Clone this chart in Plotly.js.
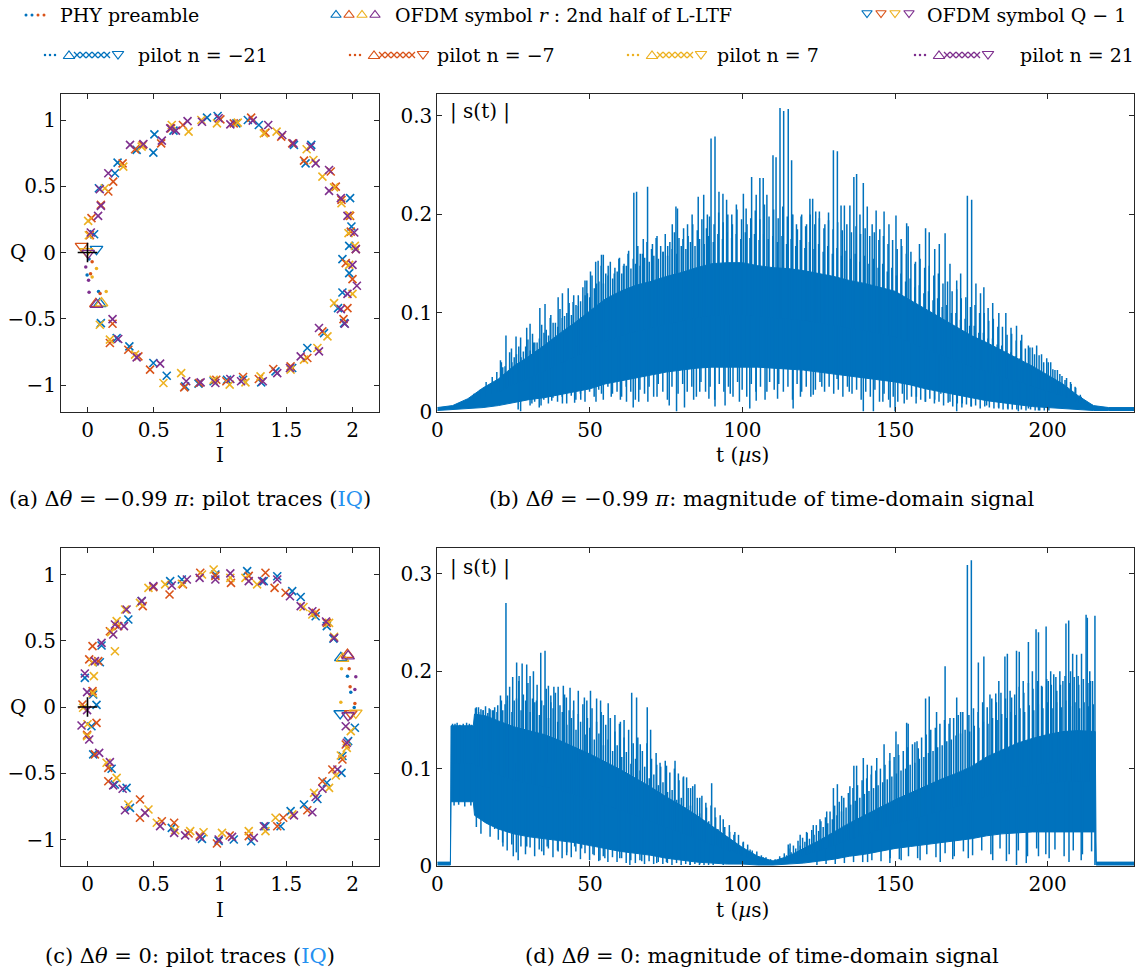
<!DOCTYPE html>
<html><head><meta charset="utf-8">
<script src="https://cdn.plot.ly/plotly-3.0.1.min.js"></script>
<style>html,body{margin:0;padding:0;background:#fff}#chart{width:1143px;height:976px}</style>
</head><body><div id="chart"></div>
<script>
// ---------- colours ----------
const COLORS = ['#0072BD', '#D95319', '#EDB120', '#7E2F8E'];
const SIG = '#0072BD';

// ---------- panel (a): Δθ = −0.99π, pilot traces (I,Q) ----------
const a_blue_I = [0.371,0.505,0.497,0.649,0.902,0.982,1.124,1.210,1.293,1.558,1.689,1.646,1.982,1.992,1.975,1.924,1.975,1.924,1.891,1.937,1.785,1.659,1.545,1.419,1.311,1.174,1.053,0.952,0.838,0.737,0.598,0.497,0.316,0.220,0.101,0.050,0.086,0.207,0.227];
const a_blue_Q = [0.774,0.892,0.754,0.920,1.018,1.030,0.975,1.000,0.962,0.812,0.812,0.673,0.410,0.196,0.050,-0.050,-0.156,-0.302,-0.420,-0.533,-0.608,-0.721,-0.872,-0.897,-0.980,-0.960,-0.960,-0.972,-0.990,-1.010,-0.930,-0.834,-0.709,-0.646,-0.533,0.138,0.485,0.598,0.678];
const a_orange_I = [0.359,0.417,0.556,0.631,0.720,1.003,1.104,1.235,1.343,1.462,1.545,1.634,1.836,1.874,1.917,1.982,1.987,2.025,1.949,2.000,1.962,1.932,1.773,1.659,1.533,1.402,1.293,1.174,1.048,0.972,0.843,0.730,0.472,0.384,0.308,0.169,0.189,0.101,0.194,0.157,0.265,0.030,0.018];
const a_orange_Q = [0.779,0.812,0.824,0.937,0.962,1.005,0.975,1.018,0.905,0.874,0.824,0.693,0.611,0.497,0.397,0.276,0.158,0.025,-0.080,-0.201,-0.420,-0.503,-0.595,-0.796,-0.859,-0.879,-0.955,-0.940,-0.972,-0.960,-0.985,-1.018,-0.884,-0.784,-0.734,-0.683,-0.538,0.359,0.535,0.460,0.673,0.259,0.131];
const a_yellow_I = [0.270,0.409,0.636,0.763,0.859,0.977,1.134,1.331,1.427,1.654,1.705,1.773,1.861,1.917,1.975,1.970,2.018,1.975,2.000,1.861,1.811,1.735,1.634,1.533,1.306,1.192,1.073,0.952,0.707,0.573,0.359,0.169,0.093,0.131,0.005,0.010];
const a_yellow_Q = [0.648,0.799,0.962,0.912,1.000,0.975,0.980,0.899,0.912,0.779,0.698,0.573,0.492,0.372,0.281,0.146,0.050,-0.093,-0.312,-0.382,-0.633,-0.721,-0.809,-0.884,-0.935,-0.980,-0.997,-0.960,-0.910,-0.985,-0.771,-0.658,-0.545,0.485,0.239,0.130];
const a_purple_I = [0.321,0.422,0.561,0.624,0.667,0.755,0.864,0.990,1.078,1.247,1.364,1.470,1.553,1.684,1.722,1.823,1.823,1.912,1.962,2.013,2.025,2.000,2.033,1.962,1.912,1.942,1.747,1.747,1.609,1.528,1.432,1.323,1.159,1.078,0.965,0.854,0.745,0.548,0.371,0.232,0.189,0.157,0.093,0.101,0.080,0.025];
const a_purple_Q = [0.812,0.819,0.844,0.937,0.920,0.992,0.987,1.013,0.967,0.995,0.962,0.887,0.824,0.799,0.673,0.623,0.465,0.410,0.276,0.151,0.025,-0.093,-0.251,-0.312,-0.427,-0.538,-0.570,-0.746,-0.784,-0.872,-0.910,-0.972,-0.972,-0.955,-0.985,-0.980,-0.972,-0.839,-0.791,-0.653,-0.503,0.598,0.477,0.352,0.276,0.151];
const a_pre_I = [[-0.003,0.083,0.012],[0.035,0.023,0.095],[0.068,0.035,0.141],[-0.013,0.008,0.012]];
const a_pre_Q = [[-0.170,-0.295,-0.050],[-0.070,-0.160,-0.310],[-0.120,-0.185,-0.295],[-0.110,-0.210,-0.300]];
const a_up_I = [0.093,0.063,0.106,0.068];
const a_up_Q = [-0.387,-0.387,-0.382,-0.394];
const a_dn_I = [0.068,-0.045,-0.008,0.005];
const a_dn_Q = [0.025,0.048,0.008,-0.005];

// ---------- panel (c): Δθ = 0, pilot traces (I,Q) ----------
const c_blue_I = [0.030,0.043,0.182,0.207,0.295,0.321,0.636,0.864,0.990,1.104,1.235,1.343,1.457,1.533,1.634,1.735,1.806,1.917,1.924,1.967,2.018,1.856,1.806,1.722,1.609,1.545,1.432,1.205,0.965,0.712,0.624,0.409,0.308,0.106,0.093,-0.020,0.043,0.068,1.330];
const c_blue_Q = [-0.145,-0.358,-0.466,-0.585,-0.610,-0.761,-0.912,-0.995,-1.010,-1.000,-1.013,-0.900,-0.900,-0.786,-0.736,-0.694,-0.572,-0.497,-0.370,-0.258,-0.157,0.516,0.610,0.685,0.830,0.874,0.987,1.025,1.000,0.962,0.950,0.800,0.660,0.464,0.338,0.220,0.094,0.016,0.950];
const c_orange_I = [-0.038,-0.003,0.068,0.056,0.157,0.157,0.396,0.396,0.561,0.654,0.763,0.846,0.977,1.073,1.217,1.432,1.477,1.659,1.773,1.848,1.924,1.949,1.806,1.722,1.495,1.412,1.343,1.217,1.083,0.965,0.851,0.720,0.619,0.497,0.417,0.232,0.169,0.038,0.013,0.081,0.038];
const c_orange_Q = [0.019,-0.210,-0.120,-0.358,-0.459,-0.560,-0.698,-0.836,-0.862,-0.874,-0.955,-0.970,-1.030,-0.970,-0.975,-0.900,-0.836,-0.779,-0.560,-0.472,-0.396,-0.283,0.635,0.710,0.862,0.899,1.013,0.990,0.937,0.990,1.013,0.925,0.849,0.905,0.761,0.610,0.572,0.459,0.359,0.346,0.120];
const c_yellow_I = [-0.033,-0.003,0.000,0.144,0.220,0.308,0.460,0.523,0.662,0.775,0.876,1.015,1.217,1.343,1.419,1.546,1.710,1.823,1.874,1.912,1.957,1.987,1.861,1.823,1.697,1.630,1.280,1.192,1.078,0.952,0.864,0.712,0.586,0.460,0.396,0.283,0.220,0.178,0.207,0.038,0.048,0.040];
const c_yellow_Q = [-0.006,-0.220,-0.130,-0.421,-0.535,-0.736,-0.774,-0.874,-0.930,-0.937,-0.945,-0.950,-0.937,-0.937,-0.836,-0.810,-0.648,-0.610,-0.517,-0.366,-0.308,-0.182,0.530,0.635,0.698,0.755,0.925,0.975,0.975,1.038,1.000,0.930,0.925,0.899,0.786,0.736,0.648,0.565,0.421,0.338,0.233,0.105];
const c_purple_I = [-0.003,-0.045,0.013,0.088,0.169,0.194,0.265,0.283,0.434,0.548,0.654,0.737,0.850,0.990,1.091,1.255,1.331,1.558,1.697,1.722,1.773,1.886,1.957,1.949,1.861,1.800,1.697,1.609,1.528,1.432,1.318,1.217,1.078,0.965,0.846,0.750,0.636,0.497,0.409,0.295,0.207,0.275,0.194,0.106,0.056,-0.020,-0.003];
const c_purple_Q = [-0.024,-0.140,-0.245,-0.346,-0.416,-0.592,-0.617,-0.779,-0.799,-0.899,-0.950,-0.969,-0.980,-1.000,-0.980,-0.987,-0.900,-0.818,-0.794,-0.679,-0.617,-0.472,-0.270,-0.145,0.522,0.645,0.723,0.761,0.836,0.962,0.950,0.950,1.008,0.962,0.975,0.962,0.917,0.912,0.799,0.736,0.623,0.610,0.547,0.484,0.346,0.253,0.112];
const c_pre_I = [[1.962,1.987,2.013],[1.975,1.982,2.018],[1.917,1.912],[2.025,2.018]];
const c_pre_Q = [[0.233,0.112,-0.004],[0.288,0.152,0.026],[0.288,0.036],[0.228,0.132]];
const c_up_I = [1.912,1.962,1.925,1.967];
const c_up_Q = [0.371,0.396,0.365,0.384];
const c_dn_I = [1.907,1.987,2.025,1.967];
const c_dn_Q = [-0.049,-0.049,-0.044,-0.064];

// ---------- panel (b): |s(t)| for Δθ = −0.99π ----------
const b_t   = [0,5,10,15,20,25,30,35,40,45,50,55,60,65,70,75,80,85,90,95,100,105,110,115,120,125,130,135,140,145,150,155,160,165,170,175,180,185,190,195,200,205,210,215,220,225,228.3];
const b_top = [0.004,0.006,0.013,0.024,0.033,0.046,0.056,0.067,0.079,0.090,0.102,0.114,0.122,0.128,0.132,0.137,0.141,0.146,0.150,0.151,0.151,0.148,0.146,0.145,0.143,0.140,0.137,0.133,0.130,0.126,0.122,0.113,0.104,0.095,0.086,0.077,0.070,0.062,0.054,0.046,0.037,0.028,0.016,0.006,0.004,0.004,0.004];
const b_bot = [0.001,0.002,0.003,0.004,0.006,0.009,0.012,0.014,0.017,0.020,0.023,0.028,0.031,0.034,0.037,0.040,0.042,0.044,0.045,0.045,0.045,0.045,0.044,0.043,0.042,0.040,0.038,0.036,0.034,0.032,0.030,0.027,0.023,0.020,0.017,0.014,0.011,0.009,0.007,0.005,0.004,0.003,0.002,0.001,0.001,0.001,0.001];
const b_spike_t = [12,14,16,18,19.5,21,22.5,24.3,25.8,27.3,29.3,30.4,31.5,33.6,35.3,37.0,39.6,41.0,42.9,44.5,46.2,48.4,49.0,50.2,51.9,52.7,53.8,54.4,56.0,58.0,59.5,61.0,62.5,64.4,65.3,66.5,67.5,68.9,70.5,72.0,74.0,75.5,77.0,78.2,78.7,80.5,82.0,83.5,85.5,87.3,88.5,89.7,91.0,92.3,93.6,94.8,96.5,98.0,100.3,101.5,103.0,104.5,105.7,106.8,108.0,110.0,111.0,112.3,113.5,115.0,116.1,116.5,118.0,119.4,121.0,122.1,123.0,124.0,125.2,127.0,128.2,129.8,131.1,132.3,133.4,135.2,136.5,137.4,138.5,139.6,140.9,142.5,143.8,145.0,146.4,148.0,150.3,152.0,153.8,154.3,156.5,158.0,160.0,161.2,163.0,164.5,166.4,168.0,170.2,171.5,173.7,175.1,176.5,178.0,179.1,180.5,182.0,184.0,186.3,188.0,189.8,191.5,193.7,195.0,196.4,198.0,199.7,201.0,202.4,204.0,205.7,207.5,209.0,211.0,212.8,214.5];
const b_spike_v = [0.018,0.022,0.030,0.035,0.040,0.050,0.077,0.064,0.076,0.075,0.085,0.089,0.070,0.105,0.109,0.095,0.116,0.120,0.125,0.111,0.118,0.133,0.133,0.142,0.152,0.153,0.159,0.159,0.148,0.140,0.155,0.148,0.160,0.222,0.223,0.160,0.175,0.228,0.170,0.178,0.162,0.168,0.190,0.208,0.206,0.175,0.190,0.200,0.218,0.220,0.200,0.277,0.279,0.223,0.221,0.215,0.200,0.210,0.221,0.190,0.238,0.220,0.237,0.237,0.220,0.260,0.258,0.308,0.305,0.307,0.255,0.200,0.185,0.200,0.190,0.216,0.216,0.203,0.203,0.190,0.202,0.265,0.264,0.209,0.209,0.209,0.238,0.241,0.200,0.232,0.208,0.190,0.204,0.185,0.203,0.190,0.199,0.175,0.191,0.188,0.150,0.170,0.186,0.182,0.165,0.170,0.181,0.150,0.133,0.140,0.219,0.215,0.130,0.120,0.126,0.105,0.110,0.100,0.100,0.085,0.087,0.078,0.067,0.065,0.067,0.058,0.054,0.050,0.042,0.038,0.032,0.030,0.025,0.015,0.008,0.007];
const b_fuzz = [[20.7,.052],[22.2,.046],[23.7,.06],[25.2,.055],[26.7,.066],[28.2,.061],[29.7,.073],[31.2,.079],[32.7,.07],[34.2,.088],[35.7,.083],[37.2,.098],[38.7,.09],[40.2,.104],[41.7,.097],[43.2,.11],[44.7,.118],[46.2,.107],[47.7,.126],[49.2,.12],[50.7,.138],[52.2,.13],[53.7,.148],[55.2,.14],[56.7,.152],[58.2,.146],[59.7,.156],[61.2,.15],[62.7,.163],[64.2,.155],[65.7,.168],[67.2,.16],[68.7,.172],[70.2,.165],[71.7,.176],[73.2,.168],[74.7,.18],[76.2,.172],[77.7,.182],[79.2,.176],[80.7,.186],[82.2,.178],[83.7,.19],[85.2,.184],[86.7,.195],[88.2,.186],[89.2,.198],[90.7,.19],[92.2,.202],[93.7,.192],[95.2,.2],[96.7,.19],[98.2,.205],[99.7,.195],[101.2,.206],[102.7,.196],[104.2,.204],[105.7,.195],[107.2,.21],[108.7,.198],[110.2,.205],[111.7,.196],[113.2,.208],[114.7,.198],[116.2,.2],[117.7,.19],[119.2,.198],[120.7,.188],[122.2,.2],[123.7,.19],[125.2,.196],[126.7,.186],[128.2,.194],[129.7,.185],[131.2,.192],[132.7,.184],[134.2,.19],[135.7,.182],[137.2,.188],[138.7,.18],[140.2,.186],[141.7,.178],[143.2,.182],[144.7,.174],[146.2,.178],[147.7,.17],[149.2,.174],[150.7,.165],[152.2,.168],[153.7,.16],[155.2,.162],[156.7,.152],[158.2,.155],[159.7,.146],[161.2,.148],[162.7,.138],[164.2,.14],[165.7,.13],[167.2,.132],[168.7,.122],[170.2,.124],[171.7,.115],[173.2,.116],[174.7,.106],[176.2,.108],[177.7,.1],[179.2,.1],[180.7,.092],[182.2,.094],[183.7,.086],[185.2,.086],[186.7,.078],[188.2,.079],[189.7,.072],[191.2,.072],[192.7,.064],[194.2,.065],[195.7,.058],[197.2,.057],[198.7,.05],[200.2,.05],[201.7,.043],[203.2,.042],[204.7,.036],[206.2,.034],[207.7,.028],[209.2,.024],[210.7,.017]];
const b_fuzz2 = [[21.45,.045],[22.95,.04],[24.45,.05],[25.95,.058],[27.45,.055],[28.95,.066],[30.45,.062],[31.95,.07],[33.45,.074],[34.95,.08],[36.45,.077],[37.95,.09],[39.45,.086],[40.95,.095],[42.45,.1],[43.95,.098],[45.45,.108],[46.95,.112],[48.45,.118],[49.95,.116],[51.45,.125],[52.95,.132],[54.45,.13],[55.95,.138],[57.45,.135],[58.95,.142],[60.45,.14],[61.95,.148],[63.45,.145],[64.95,.15],[66.45,.148],[67.95,.156],[69.45,.152],[70.95,.158],[72.45,.155],[73.95,.162],[75.45,.158],[76.95,.165],[78.45,.16],[79.95,.168],[81.45,.165],[82.95,.172],[84.45,.168],[85.95,.175],[87.45,.17],[88.95,.178],[90.45,.172],[91.95,.18],[93.45,.175],[94.95,.182],[96.45,.176],[97.95,.18],[99.45,.175],[100.95,.182],[102.45,.176],[103.95,.18],[105.45,.174],[106.95,.18],[108.45,.175],[109.95,.178],[111.45,.172],[112.95,.178],[114.45,.17],[115.95,.175],[117.45,.168],[118.95,.174],[120.45,.166],[121.95,.172],[123.45,.165],[124.95,.17],[126.45,.162],[127.95,.168],[129.45,.16],[130.95,.166],[132.45,.158],[133.95,.163],[135.45,.155],[136.95,.16],[138.45,.152],[139.95,.158],[141.45,.15],[142.95,.155],[144.45,.146],[145.95,.15],[147.45,.142],[148.95,.146],[150.45,.138],[151.95,.14],[153.45,.132],[154.95,.135],[156.45,.126],[157.95,.128],[159.45,.12],[160.95,.122],[162.45,.113],[163.95,.115],[165.45,.106],[166.95,.108],[168.45,.1],[169.95,.1],[171.45,.093],[172.95,.094],[174.45,.087],[175.95,.087],[177.45,.08],[178.95,.08],[180.45,.074],[181.95,.074],[183.45,.068],[184.95,.067],[186.45,.062],[187.95,.06],[189.45,.056],[190.95,.054],[192.45,.05],[193.95,.048],[195.45,.044],[196.95,.042],[198.45,.038],[199.95,.036],[201.45,.032],[202.95,.03],[204.45,.026],[205.95,.024],[207.45,.02],[208.95,.017],[210.45,.013],[211.95,.01]];
const b_dip_t = [26.5,27.3,31,34,37.5,41,45,47,52,53.8,57,60,62,64.2,66,69,72,76,78.4,81,84,86,89,91,94.3,96,99,102.4,104.5,108,111.5,116.6,119,123.2,126,131,135,139.6,142.9,146,148.4,150,153,157,160,163,165,168,170.2,172,175,180,184,187,190.4,193.7,197,200];
const b_dip_v = [0.002,0.000,0.008,0.006,0.011,0.008,0.009,0.012,0.010,0.018,0.015,0.012,0.010,0.004,0.010,0.010,0.015,0.006,0.000,0.004,0.012,0.020,0.013,0.005,0.006,0.018,0.010,0.003,0.011,0.020,0.013,0.003,0.015,0.017,0.025,0.033,0.020,0.000,0.000,0.010,0.004,0.000,0.008,0.015,0.010,0.012,0.018,0.010,0.000,0.008,0.005,0.006,0.003,0.002,0.000,0.003,0.001,0.002];
const b_dip2 = [[30.4,.006],[31.9,.01],[33.4,.004],[34.9,.012],[36.4,.008],[37.9,.014],[39.4,.01],[40.9,.015],[42.4,.008],[43.9,.016],[45.4,.012],[46.9,.018],[48.4,.01],[49.9,.02],[51.4,.015],[52.9,.022],[54.4,.012],[55.9,.025],[57.4,.018],[58.9,.02],[60.4,.015],[61.9,.025],[63.4,.02],[64.9,.012],[66.4,.022],[67.9,.018],[69.4,.025],[70.9,.015],[72.4,.028],[73.9,.02],[75.4,.012],[76.9,.025],[78.9,.018],[80.4,.028],[81.9,.02],[83.4,.025],[84.9,.015],[86.4,.03],[87.9,.02],[89.4,.025],[90.9,.012],[92.4,.028],[93.9,.02],[95.4,.025],[96.9,.015],[98.4,.03],[99.9,.022],[101.4,.015],[102.9,.028],[104.4,.02],[105.9,.025],[107.4,.012],[108.9,.03],[110.4,.022],[111.9,.028],[113.4,.02],[114.9,.025],[116.4,.012],[117.9,.028],[119.4,.02],[120.9,.025],[122.4,.015],[123.9,.022],[125.4,.03],[126.9,.02],[128.4,.025],[129.9,.018],[131.4,.022],[132.9,.015],[134.4,.025],[135.9,.018],[137.4,.022],[138.9,.012],[140.4,.02],[141.9,.015],[143.4,.022],[144.9,.01],[146.4,.018],[147.9,.012],[149.4,.015],[150.9,.01],[152.4,.018],[153.9,.012],[155.4,.015],[156.9,.008],[158.4,.012],[159.9,.01],[161.4,.013],[162.9,.008],[164.4,.01],[165.9,.006],[167.4,.009],[168.9,.005],[170.4,.008],[171.9,.004],[173.4,.007],[174.9,.005],[176.4,.006],[177.9,.003],[179.4,.005],[180.9,.004],[182.4,.003],[183.9,.004],[185.4,.002],[186.9,.003],[188.4,.002],[189.9,.002],[191.4,.002],[192.9,.001],[194.4,.002],[195.9,.001],[197.4,.001],[198.9,.001],[200.4,.001]];

// ---------- panel (d): |s(t)| for Δθ = 0 ----------
const d_t   = [0,4.3,4.5,8,11.8,12.2,16,20,25,30,35,40,45,50,55,60,65,70,75,80,85,90,95,100,105,110,115,120,125,130,135,140,145,150,155,160,165,170,175,180,185,190,195,200,205,210,215.6,215.9,222,228.3];
const d_top = [0.004,0.004,0.144,0.144,0.144,0.156,0.154,0.149,0.143,0.139,0.135,0.129,0.122,0.115,0.107,0.099,0.090,0.081,0.071,0.062,0.052,0.041,0.030,0.019,0.010,0.005,0.010,0.018,0.026,0.035,0.044,0.052,0.060,0.068,0.075,0.082,0.089,0.095,0.102,0.112,0.119,0.126,0.131,0.135,0.138,0.139,0.138,0.004,0.004,0.004];
const d_bot = [0.001,0.001,0.066,0.066,0.066,0.052,0.044,0.038,0.033,0.030,0.028,0.026,0.024,0.021,0.018,0.015,0.013,0.011,0.008,0.006,0.004,0.003,0.002,0.002,0.001,0.001,0.002,0.003,0.005,0.007,0.010,0.012,0.015,0.018,0.020,0.022,0.024,0.026,0.028,0.031,0.033,0.034,0.035,0.035,0.035,0.035,0.035,0.001,0.001,0.001];
const d_spike_t = [5,6.5,8.5,10.5,12.5,13.5,15,17,18.5,19.8,21,22.5,23,24.7,26,26.8,27.8,29.3,30.4,31.5,32.5,33.9,35.3,36.4,37.2,38.2,39.6,41.3,42.3,43.5,44.6,46.2,48.2,49,50.2,52.2,53.5,54.4,56,58.2,60,61.2,63.7,65.3,66.5,68.8,69.9,71.9,73,75.1,77.9,79,80.6,81.7,83,84.4,86,88,89.9,91,93.7,95.8,97.5,100.3,102.5,106.8,110,112.3,115,115.6,118.9,121,123.2,125.4,127.6,129.8,131.1,132.5,135.2,136.5,137.4,139.6,140.9,142.3,144,146.4,148.3,150.3,151,153.8,154.3,156.5,157.6,160,161.2,163.6,166.4,168,170.2,171.5,173.7,175,177.3,179.1,181.1,183,184,186,186.8,188.2,189.8,190.7,192,193.7,195,196.2,197,198,199.5,200.2,201,202,203,204,205,206,206.9,207.5,208.2,209.5,210,211.1,212.6,213,213.8,214,215.5];
const d_spike_v = [0.146,0.147,0.146,0.146,0.162,0.163,0.160,0.162,0.160,0.165,0.170,0.270,0.175,0.194,0.209,0.195,0.208,0.207,0.195,0.200,0.170,0.219,0.221,0.185,0.175,0.184,0.184,0.185,0.173,0.183,0.160,0.180,0.173,0.170,0.180,0.172,0.170,0.155,0.167,0.155,0.148,0.150,0.178,0.173,0.125,0.163,0.140,0.104,0.106,0.103,0.108,0.095,0.091,0.091,0.080,0.084,0.070,0.065,0.085,0.060,0.048,0.035,0.035,0.025,0.017,0.009,0.006,0.008,0.022,0.023,0.032,0.035,0.042,0.048,0.056,0.080,0.084,0.072,0.082,0.103,0.103,0.111,0.104,0.103,0.111,0.125,0.116,0.138,0.125,0.147,0.146,0.127,0.121,0.172,0.174,0.158,0.205,0.152,0.173,0.158,0.309,0.314,0.209,0.215,0.176,0.177,0.190,0.215,0.218,0.173,0.221,0.220,0.190,0.230,0.200,0.243,0.240,0.185,0.246,0.190,0.200,0.197,0.180,0.200,0.190,0.249,0.252,0.200,0.218,0.217,0.195,0.218,0.258,0.255,0.200,0.190,0.257];
const d_fuzz = [[5.8,.146],[7.4,.145],[9.6,.147],[11.2,.145],[12.8,.163],[14.3,.161],[15.8,.164],[17.3,.161],[18.8,.163],[20.7,.175],[22.2,.166],[23.7,.184],[25.2,.17],[26.7,.19],[28.2,.176],[29.7,.188],[31.2,.172],[32.7,.186],[34.2,.17],[35.7,.182],[37.2,.168],[38.7,.178],[40.2,.165],[41.7,.176],[43.2,.16],[44.7,.17],[46.2,.156],[47.7,.166],[49.2,.152],[50.7,.162],[52.2,.148],[53.7,.158],[55.2,.145],[56.7,.152],[58.2,.138],[59.7,.146],[61.2,.132],[62.7,.14],[64.2,.126],[65.7,.132],[67.2,.118],[68.7,.126],[70.2,.11],[71.7,.116],[73.2,.102],[74.7,.108],[76.2,.096],[77.7,.1],[79.2,.088],[80.7,.092],[82.2,.08],[83.7,.082],[85.2,.07],[86.7,.072],[88.2,.06],[89.7,.062],[91.2,.05],[92.7,.052],[94.2,.04],[95.7,.042],[97.2,.032],[98.7,.032],[100.2,.024],[101.7,.022],[103.2,.016],[104.7,.015],[106.2,.011],[107.7,.009],[109.2,.007],[110.7,.007],[112.2,.01],[113.7,.013],[115.2,.018],[116.7,.021],[118.2,.026],[119.7,.029],[121.2,.034],[122.7,.037],[124.2,.042],[125.7,.046],[127.2,.05],[128.7,.056],[130.2,.062],[131.7,.066],[133.2,.07],[134.7,.075],[136.2,.08],[137.7,.083],[139.2,.088],[140.7,.09],[142.2,.094],[143.7,.098],[145.2,.1],[146.7,.104],[148.2,.108],[149.7,.112],[151.2,.114],[152.7,.118],[154.2,.122],[155.7,.125],[157.2,.128],[158.7,.132],[160.2,.135],[161.7,.14],[163.2,.142],[164.7,.146],[166.2,.15],[167.7,.146],[169.2,.152],[170.7,.155],[172.2,.158],[174.2,.155],[175.7,.162],[177.2,.158],[178.7,.168],[180.2,.163],[181.7,.172],[183.2,.168],[184.7,.178],[186.2,.172],[187.7,.18],[189.2,.176],[190.7,.184],[192.2,.178],[193.7,.188],[195.2,.182],[196.7,.19],[198.2,.184],[199.7,.192],[201.2,.186],[202.7,.194],[204.2,.186],[205.7,.195],[207.2,.188],[208.7,.194],[210.2,.186],[211.7,.192],[213.2,.188],[214.7,.19]];
const d_fuzz2 = [[13.55,.158],[15.05,.16],[16.55,.157],[18.05,.16],[19.55,.158],[21.45,.16],[22.95,.17],[24.45,.158],[25.95,.172],[27.45,.16],[28.95,.17],[30.45,.158],[31.95,.168],[33.45,.155],[34.95,.165],[36.45,.152],[37.95,.162],[39.45,.148],[40.95,.158],[42.45,.145],[43.95,.152],[45.45,.14],[46.95,.148],[48.45,.135],[49.95,.142],[51.45,.13],[52.95,.136],[54.45,.124],[55.95,.13],[57.45,.118],[58.95,.124],[60.45,.112],[61.95,.117],[63.45,.105],[64.95,.11],[66.45,.098],[67.95,.102],[69.45,.09],[70.95,.094],[72.45,.083],[73.95,.086],[75.45,.076],[76.95,.078],[78.45,.068],[79.95,.07],[81.45,.06],[82.95,.062],[84.45,.053],[85.95,.054],[87.45,.045],[88.95,.046],[90.45,.038],[91.95,.038],[93.45,.031],[94.95,.03],[96.45,.024],[97.95,.023],[99.45,.018],[100.95,.016],[102.45,.012],[103.95,.011],[105.45,.008],[106.95,.007],[108.45,.006],[111.45,.006],[112.95,.008],[114.45,.011],[115.95,.014],[117.45,.018],[118.95,.021],[120.45,.025],[121.95,.028],[123.45,.032],[124.95,.036],[126.45,.04],[127.95,.044],[129.45,.048],[130.95,.052],[132.45,.056],[133.95,.06],[135.45,.063],[136.95,.067],[138.45,.07],[139.95,.074],[141.45,.077],[142.95,.08],[144.45,.083],[145.95,.086],[147.45,.089],[148.95,.092],[150.45,.095],[151.95,.098],[153.45,.1],[154.95,.104],[156.45,.106],[157.95,.11],[159.45,.112],[160.95,.116],[162.45,.118],[163.95,.122],[165.45,.124],[166.95,.128],[168.45,.13],[169.95,.134],[171.45,.136],[172.95,.14],[174.45,.138],[175.95,.144],[177.45,.142],[178.95,.148],[180.45,.146],[181.95,.152],[183.45,.15],[184.95,.156],[186.45,.152],[187.95,.158],[189.45,.155],[190.95,.162],[192.45,.158],[193.95,.165],[195.45,.16],[196.95,.166],[198.45,.162],[199.95,.168],[201.45,.162],[202.95,.168],[204.45,.163],[205.95,.17],[207.45,.164],[208.95,.168],[210.45,.162],[211.95,.168],[213.45,.164],[214.95,.166]];
const d_dip_t = [20,21.5,24.9,26.5,29.3,34.2,36,39.6,42.4,45,47.3,51,53.3,54.9,59.8,63.1,67,71.9,75.1,82.8,86,93.7,141,148.3,152,158.2,164.8,168.9,174,182,186.5,189.8,193,197,200.5,207,211,215.5];
const d_dip_v = [0.027,0.020,0.010,0.006,0.020,0.015,0.020,0.015,0.011,0.020,0.018,0.012,0.006,0.008,0.008,0.001,0.005,0.003,0.004,0.001,0.002,0.001,0.004,0.003,0.006,0.006,0.004,0.007,0.008,0.006,0.005,0.001,0.003,0.010,0.008,0.004,0.006,0.001];
const d_dip2 = [[5.5,.062],[7,.063],[9,.061],[11,.062],[12.8,.04],[14.3,.033],[15.8,.045],[17.3,.03],[18.8,.038],[21.4,.024],[22.9,.016],[24.4,.022],[25.9,.014],[27.4,.02],[28.9,.012],[30.4,.019],[31.9,.01],[33.4,.017],[34.9,.011],[36.4,.018],[37.9,.009],[39.4,.016],[40.9,.008],[42.4,.014],[43.9,.009],[45.4,.015],[46.9,.007],[48.4,.013],[49.9,.006],[51.4,.011],[52.9,.005],[54.4,.01],[55.9,.004],[57.4,.009],[58.9,.004],[60.4,.008],[61.9,.003],[63.4,.006],[64.9,.003],[66.4,.006],[67.9,.002],[69.4,.005],[70.9,.002],[72.4,.004],[73.9,.002],[75.4,.003],[76.9,.001],[78.4,.003],[79.9,.001],[81.4,.002],[82.9,.001],[84.4,.002],[85.9,.001],[87.4,.001],[88.9,.001],[90.4,.001],[124.4,.001],[127.4,.002],[130.4,.002],[133.4,.003],[136.4,.004],[139.4,.004],[142.4,.006],[145.4,.005],[148.4,.008],[151.4,.007],[154.4,.01],[157.4,.008],[160.4,.012],[163.4,.009],[166.4,.013],[169.4,.01],[172.4,.015],[175.4,.011],[178.4,.016],[181.4,.012],[184.4,.018],[187.4,.012],[190.4,.016],[193.4,.01],[196.4,.018],[199.4,.012],[202.4,.017],[205.4,.01],[208.4,.016],[211.4,.012],[214.4,.015]];

// ---------- text ----------
const FONT = 'DejaVu Serif';
const LINK = '#2490f0';
const legendRow1 = ['PHY preamble', 'OFDM symbol <i>r</i> : 2nd half of L-LTF', 'OFDM symbol Q − 1'];
const legendRow2 = ['pilot n = −21', 'pilot n = −7', 'pilot n = 7', 'pilot n = 21'];
const captions = [
  '(a) Δ<i>θ</i> = −0.99 <i>π</i>: pilot traces (<span style="color:' + LINK + '">IQ</span>)',
  '(b) Δ<i>θ</i> = −0.99 <i>π</i>: magnitude of time-domain signal',
  '(c) Δ<i>θ</i> = 0: pilot traces (<span style="color:' + LINK + '">IQ</span>)',
  '(d) Δ<i>θ</i> = 0: magnitude of time-domain signal'
];

// ---------- helpers ----------
function lerp(t, xs, ys) {
  for (let i = 0; i < xs.length - 1; i++) {
    if (t <= xs[i + 1]) return ys[i] + (ys[i + 1] - ys[i]) * (t - xs[i]) / (xs[i + 1] - xs[i]);
  }
  return ys[ys.length - 1];
}
const traces = [];
function iqPanel(xa, ya, I, Q, preI, preQ, upI, upQ, dnI, dnQ) {
  for (let k = 0; k < 4; k++) {
    traces.push({type:'scatter', mode:'markers', x:preI[k], y:preQ[k], xaxis:xa, yaxis:ya,
      marker:{symbol:'circle', size:3.5, color:COLORS[k]}, hoverinfo:'skip'});
  }
  for (let k = 0; k < 4; k++) {
    traces.push({type:'scatter', mode:'markers', x:I[k], y:Q[k], xaxis:xa, yaxis:ya,
      marker:{symbol:'x-thin', size:8, line:{color:COLORS[k], width:1.6}}, hoverinfo:'skip'});
  }
  for (let k = 0; k < 4; k++) {
    traces.push({type:'scatter', mode:'markers', x:[upI[k]], y:[upQ[k]], xaxis:xa, yaxis:ya,
      marker:{symbol:'triangle-up-open', size:11, color:COLORS[k], line:{width:1.3}}, hoverinfo:'skip'});
    traces.push({type:'scatter', mode:'markers', x:[dnI[k]], y:[dnQ[k]], xaxis:xa, yaxis:ya,
      marker:{symbol:'triangle-down-open', size:11, color:COLORS[k], line:{width:1.3}}, hoverinfo:'skip'});
  }
  traces.push({type:'scatter', mode:'markers', x:[0], y:[0], xaxis:xa, yaxis:ya,
    marker:{symbol:'cross-thin', size:14, line:{color:'#000', width:1.6}}, hoverinfo:'skip'});
}
function sigPanel(xa, ya, t, top, bot, st, sv, fuzzLists, dt, dv, dip2) {
  traces.push({type:'scatter', mode:'lines', x:t, y:bot, xaxis:xa, yaxis:ya, line:{color:SIG, width:1}, hoverinfo:'skip'});
  traces.push({type:'scatter', mode:'lines', x:t, y:top, xaxis:xa, yaxis:ya, line:{color:SIG, width:1},
    fill:'tonexty', fillcolor:SIG, hoverinfo:'skip'});
  const sx = [], sy = [];
  const seg = (tt, v) => { const base = (lerp(tt, t, top) + lerp(tt, t, bot)) / 2; sx.push(tt, tt, null); sy.push(base, v, null); };
  st.forEach((tt, i) => seg(tt, sv[i]));
  fuzzLists.forEach(list => list.forEach(p => seg(p[0], p[1])));
  dt.forEach((tt, i) => seg(tt, dv[i]));
  dip2.forEach(p => seg(p[0], p[1]));
  traces.push({type:'scatter', mode:'lines', x:sx, y:sy, xaxis:xa, yaxis:ya, line:{color:SIG, width:1.5}, connectgaps:false, hoverinfo:'skip'});
}

iqPanel('x', 'y', [a_blue_I,a_orange_I,a_yellow_I,a_purple_I], [a_blue_Q,a_orange_Q,a_yellow_Q,a_purple_Q], a_pre_I, a_pre_Q, a_up_I, a_up_Q, a_dn_I, a_dn_Q);
sigPanel('x2', 'y2', b_t, b_top, b_bot, b_spike_t, b_spike_v, [b_fuzz, b_fuzz2], b_dip_t, b_dip_v, b_dip2);
iqPanel('x3', 'y3', [c_blue_I,c_orange_I,c_yellow_I,c_purple_I], [c_blue_Q,c_orange_Q,c_yellow_Q,c_purple_Q], c_pre_I, c_pre_Q, c_up_I, c_up_Q, c_dn_I, c_dn_Q);
sigPanel('x4', 'y4', d_t, d_top, d_bot, d_spike_t, d_spike_v, [d_fuzz, d_fuzz2], d_dip_t, d_dip_v, d_dip2);

// ---------- legend glyphs (own hidden axis in pixel units) ----------
const L = {xaxis:'x5', yaxis:'y5', type:'scatter', mode:'markers', hoverinfo:'skip'};
traces.push(Object.assign({}, L, {x:[26,32], y:[15,15], marker:{size:3, color:COLORS[0]}}));
traces.push(Object.assign({}, L, {x:[38,44], y:[15,15], marker:{size:3, color:COLORS[1]}}));
for (let k = 0; k < 4; k++) {
  traces.push(Object.assign({}, L, {x:[336 + 13 * k], y:[15], marker:{symbol:'triangle-up-open', size:9, color:COLORS[k], line:{width:1.2}}}));
  traces.push(Object.assign({}, L, {x:[867 + 14 * k], y:[13], marker:{symbol:'triangle-down-open', size:9, color:COLORS[k], line:{width:1.2}}}));
}
const row2Start = [45, 350, 628, 915];
const row2Text = [136, 435, 715, 1018];
for (let k = 0; k < 4; k++) {
  const s = row2Start[k];
  traces.push(Object.assign({}, L, {x:[s, s + 5, s + 10], y:[55, 55, 55], marker:{size:2.5, color:COLORS[k]}}));
  traces.push(Object.assign({}, L, {x:[s + 24], y:[56], marker:{symbol:'triangle-up-open', size:10, color:COLORS[k], line:{width:1.2}}}));
  const xs = [], ys = [];
  for (let j = 0; j < 6; j++) { xs.push(s + 32 + 6 * j); ys.push(55); }
  traces.push(Object.assign({}, L, {x:xs, y:ys, marker:{symbol:'x-thin', size:6, line:{color:COLORS[k], width:1.3}}}));
  traces.push(Object.assign({}, L, {x:[s + 73], y:[54], marker:{symbol:'triangle-down-open', size:10, color:COLORS[k], line:{width:1.2}}}));
}

// ---------- axes ----------
const W = 1143, H = 976;
const colA = [61 / W, 379 / W], colB = [437.3 / W, 1134 / W];
const rowTop = [1 - 411.5 / H, 1 - 93.5 / H], rowBot = [1 - 866 / H, 1 - 548 / H];
const axBase = {showline:true, linecolor:'#262626', linewidth:1, mirror:'allticks', ticks:'inside', ticklen:5,
  tickcolor:'#262626', tickwidth:1, showgrid:false, zeroline:false, fixedrange:true,
  tickfont:{family:FONT, size:20, color:'#000'}};
function ax(extra) { return Object.assign({}, axBase, extra); }

const ann = [];
function txt(o) { ann.push(Object.assign({showarrow:false, font:{family:FONT, size:20, color:'#000'}}, o)); }
txt({xref:'paper', yref:'y', x:18 / W, y:0, text:'Q', xanchor:'center', yanchor:'middle'});
txt({xref:'paper', yref:'y3', x:18 / W, y:0, text:'Q', xanchor:'center', yanchor:'middle'});
txt({xref:'x', yref:'paper', x:1, y:1 - 455 / H, text:'I', xanchor:'center', yanchor:'middle'});
txt({xref:'x3', yref:'paper', x:1, y:1 - 910 / H, text:'I', xanchor:'center', yanchor:'middle'});
txt({xref:'x2', yref:'paper', x:100, y:1 - 455 / H, text:'t (<i>µ</i>s)', xanchor:'center', yanchor:'middle'});
txt({xref:'x4', yref:'paper', x:100, y:1 - 910 / H, text:'t (<i>µ</i>s)', xanchor:'center', yanchor:'middle'});
txt({xref:'x2', yref:'y2', x:3.5, y:0.304, text:'| s(t) |', xanchor:'left', yanchor:'middle'});
txt({xref:'x4', yref:'y4', x:3.5, y:0.306, text:'| s(t) |', xanchor:'left', yanchor:'middle'});
const capFont = {family:FONT, size:21, color:'#000'};
txt({xref:'paper', yref:'paper', x:190 / W, y:1 - 499 / H, text:captions[0], xanchor:'center', yanchor:'middle', font:capFont});
txt({xref:'paper', yref:'paper', x:762 / W, y:1 - 499 / H, text:captions[1], xanchor:'center', yanchor:'middle', font:capFont});
txt({xref:'paper', yref:'paper', x:190 / W, y:1 - 956 / H, text:captions[2], xanchor:'center', yanchor:'middle', font:capFont});
txt({xref:'paper', yref:'paper', x:762 / W, y:1 - 956 / H, text:captions[3], xanchor:'center', yanchor:'middle', font:capFont});
const legFont = {family:FONT, size:19, color:'#000'};
[58, 393, 925].forEach((x, i) => txt({xref:'x5', yref:'y5', x:x, y:15, text:legendRow1[i], xanchor:'left', yanchor:'middle', font:legFont}));
row2Text.forEach((x, i) => txt({xref:'x5', yref:'y5', x:x, y:55, text:legendRow2[i], xanchor:'left', yanchor:'middle', font:legFont}));

const iqX = {range:[-0.2, 2.2], tickvals:[0, 0.5, 1, 1.5, 2]};
const iqY = {range:[-1.2, 1.2], tickvals:[-1, -0.5, 0, 0.5, 1]};
const sX = {range:[0, 228.3], tickvals:[0, 50, 100, 150, 200]};
const sY = {tickvals:[0, 0.1, 0.2, 0.3]};

const layout = {
  width:W, height:H, margin:{l:0, r:0, t:0, b:0}, paper_bgcolor:'#fff', plot_bgcolor:'rgba(0,0,0,0)',
  showlegend:false, font:{family:FONT, size:20, color:'#000'},
  xaxis: ax(Object.assign({domain:colA, anchor:'y'}, iqX)),
  yaxis: ax(Object.assign({domain:rowTop, anchor:'x'}, iqY)),
  xaxis2: ax(Object.assign({domain:colB, anchor:'y2'}, sX)),
  yaxis2: ax(Object.assign({domain:rowTop, anchor:'x2', range:[0, 0.3227]}, sY)),
  xaxis3: ax(Object.assign({domain:colA, anchor:'y3'}, iqX)),
  yaxis3: ax(Object.assign({domain:rowBot, anchor:'x3'}, iqY)),
  xaxis4: ax(Object.assign({domain:colB, anchor:'y4'}, sX)),
  yaxis4: ax(Object.assign({domain:rowBot, anchor:'x4', range:[0, 0.3265]}, sY)),
  xaxis5: {domain:[0, 1], anchor:'y5', range:[0, W], visible:false, fixedrange:true},
  yaxis5: {domain:[1 - 80 / H, 1], anchor:'x5', range:[80, 0], visible:false, fixedrange:true},
  annotations: ann
};
Plotly.newPlot('chart', traces, layout, {staticPlot:true, displayModeBar:false});
</script></body></html>
